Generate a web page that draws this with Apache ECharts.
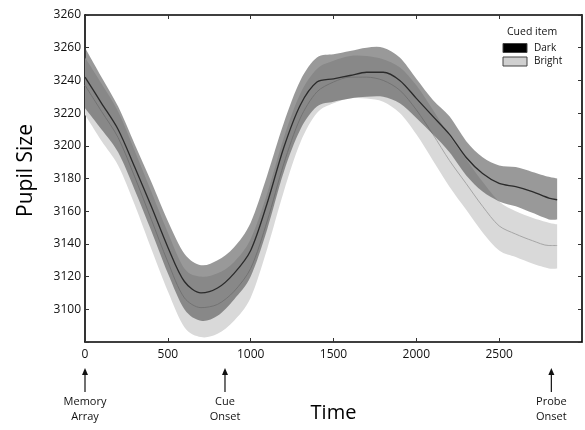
<!DOCTYPE html>
<html>
<head>
<meta charset="utf-8">
<script src="https://cdn.jsdelivr.net/npm/echarts@6/dist/echarts.min.js"></script>
<style>
  html, body { margin: 0; padding: 0; background: #fff; }
  #chart { width: 585px; height: 430px; }
</style>
</head>
<body>
<div id="chart"></div>
<script>
// time points (ms)
const times = [0, 100, 200, 300, 400, 500, 600, 700, 800, 900, 1000, 1100, 1200, 1300, 1400,
  1500, 1600, 1700, 1800, 1900, 2000, 2100, 2200, 2300, 2400, 2500, 2600, 2700, 2800, 2850];

// Dark cued item: mean and band
const darkMean = [3242, 3226, 3210, 3187, 3163, 3138, 3117, 3110, 3113, 3122, 3136, 3165, 3199, 3225, 3239,
  3241, 3243, 3245, 3245, 3240, 3229, 3218, 3207, 3193, 3183, 3177, 3175, 3172, 3168, 3167];
const darkUpper = [3260, 3242, 3224, 3201, 3178, 3154, 3134, 3127, 3130, 3138, 3153, 3182, 3214, 3240, 3254,
  3256, 3258, 3260, 3260, 3254, 3241, 3228, 3218, 3203, 3193, 3188, 3187, 3184, 3181, 3180];
const darkLower = [3223, 3210, 3196, 3173, 3148, 3122, 3100, 3093, 3096, 3106, 3120, 3149, 3184, 3210, 3224,
  3227, 3229, 3230, 3230, 3226, 3217, 3207, 3196, 3182, 3172, 3166, 3163, 3159, 3155, 3155];

// Bright cued item: mean and band
const brightMean = [3237, 3221, 3205, 3181, 3155, 3129, 3107, 3101, 3103, 3111, 3125, 3154, 3189, 3217, 3233,
  3239, 3242, 3242, 3240, 3234, 3222, 3207, 3191, 3177, 3163, 3151, 3146, 3142, 3139, 3139];
const brightUpper = [3254, 3238, 3221, 3197, 3172, 3147, 3125, 3120, 3122, 3129, 3143, 3171, 3205, 3232, 3247,
  3252, 3255, 3255, 3253, 3248, 3237, 3222, 3206, 3192, 3178, 3166, 3160, 3156, 3153, 3152];
const brightLower = [3219, 3203, 3188, 3164, 3137, 3111, 3089, 3083, 3085, 3093, 3107, 3137, 3172, 3202, 3220,
  3226, 3229, 3229, 3227, 3220, 3207, 3191, 3175, 3161, 3147, 3136, 3132, 3128, 3125, 3125];

// axis ticks
const yTicks = [3100, 3120, 3140, 3160, 3180, 3200, 3220, 3240, 3260, 3280];
const yTickLabels = ['3100', '3120', '3140', '3160', '3180', '3200', '3220', '3240', '3260', '3260'];
const xTicks = [0, 500, 1000, 1500, 2000, 2500];
const xTickLabels = ['0', '500', '1000', '1500', '2000', '2500'];

// event markers under the time axis
const markerTimes = [0, 845, 2815];
const markerLabels = ['Memory\nArray', 'Cue\nOnset', 'Probe\nOnset'];

const legendNames = ['Dark', 'Bright'];
const legendColors = ['#000000', '#d0d0d0'];

const FONT = 'Open Sans';

function pairs(ys) {
  return times.map((t, i) => [t, ys[i]]);
}

// smooth path through points (catmull-rom as cubic beziers)
function curveTo(pts, first) {
  let d = first ? 'M' + pts[0][0] + ',' + pts[0][1] : 'L' + pts[0][0] + ',' + pts[0][1];
  const k = 0.16;
  for (let i = 0; i < pts.length - 1; i++) {
    const p0 = pts[Math.max(i - 1, 0)], p1 = pts[i], p2 = pts[i + 1], p3 = pts[Math.min(i + 2, pts.length - 1)];
    const c1 = [p1[0] + (p2[0] - p0[0]) * k, p1[1] + (p2[1] - p0[1]) * k];
    const c2 = [p2[0] - (p3[0] - p1[0]) * k, p2[1] - (p3[1] - p1[1]) * k];
    d += 'C' + c1[0] + ',' + c1[1] + ',' + c2[0] + ',' + c2[1] + ',' + p2[0] + ',' + p2[1];
  }
  return d;
}

// shaded band between upper and lower, drawn through the axes
function band(name, upper, lower, color, z) {
  return {
    name: name, type: 'custom', z: z, silent: true,
    data: [[times[0], upper[0]]],
    renderItem: (params, api) => {
      const top = times.map((t, i) => api.coord([t, upper[i]]));
      const bottom = times.map((t, i) => api.coord([t, lower[i]])).reverse();
      return {
        type: 'path',
        shape: { pathData: curveTo(top, true) + curveTo(bottom, false) + 'Z' },
        style: { fill: color }
      };
    }
  };
}

const chart = echarts.init(document.getElementById('chart'));

const frameLine = { show: true, onZero: false, lineStyle: { color: '#000', width: 1.6 } };
const inTick = { inside: true, length: 4, lineStyle: { color: '#333' } };

chart.setOption({
  animation: false,
  textStyle: { fontFamily: FONT },
  grid: { left: 85, right: 2, top: 15, bottom: 88 },
  xAxis: [
    {
      type: 'value', min: 0, max: 3000, interval: 500,
      name: 'Time', nameLocation: 'middle', nameGap: 61,
      nameTextStyle: { fontSize: 20, color: '#000', fontFamily: FONT },
      axisLine: frameLine,
      axisTick: inTick,
      axisLabel: {
        fontSize: 12, color: '#111', margin: 7, fontFamily: FONT,
        formatter: v => { const i = xTicks.indexOf(v); return i < 0 ? '' : xTickLabels[i]; }
      },
      splitLine: { show: false }
    },
    {
      type: 'value', position: 'top', min: 0, max: 3000, interval: 500,
      axisLine: frameLine, axisTick: inTick,
      axisLabel: { show: false }, splitLine: { show: false }
    }
  ],
  yAxis: [
    {
      type: 'value', min: 3080, max: 3280, interval: 20,
      name: 'Pupil Size', nameLocation: 'middle', nameGap: 48,
      nameTextStyle: { fontSize: 21, color: '#000', fontFamily: FONT, padding: [0, 0, 0, 16] },
      axisLine: frameLine,
      axisTick: inTick,
      axisLabel: {
        fontSize: 12, color: '#111', margin: 4, fontFamily: FONT,
        formatter: v => { const i = yTicks.indexOf(v); return i < 0 ? '' : yTickLabels[i]; }
      },
      splitLine: { show: false }
    },
    {
      type: 'value', position: 'right', min: 3080, max: 3280, interval: 20,
      axisLine: frameLine, axisTick: inTick,
      axisLabel: { show: false }, splitLine: { show: false }
    }
  ],
  series: [
    band('bright-band', brightUpper, brightLower, '#d9d9d9', 1),
    {
      name: 'Bright', type: 'line', data: pairs(brightMean),
      symbol: 'none', smooth: 0.3, z: 2, silent: true,
      lineStyle: { color: '#a6a6a6', width: 1 }
    },
    band('dark-band', darkUpper, darkLower, 'rgba(74,74,74,0.56)', 3),
    {
      name: 'Dark', type: 'line', data: pairs(darkMean),
      symbol: 'none', smooth: 0.3, z: 4, silent: true,
      lineStyle: { color: '#2b2b2b', width: 1.3 }
    }
  ]
});

// legend box (top right) and event arrows under the time axis
const graphics = [
  {
    type: 'text', left: 507, top: 27,
    style: { text: 'Cued item', fontSize: 10.5, fontFamily: FONT, fill: '#111' }
  }
];
legendNames.forEach((name, i) => {
  graphics.push({
    type: 'rect', shape: { x: 503, y: 43.5 + i * 13.5, width: 24, height: 9 },
    style: { fill: legendColors[i], stroke: '#444', lineWidth: 1 }
  });
  graphics.push({
    type: 'text', x: 534, y: 48 + i * 13.5,
    style: { text: name, fontSize: 10, fontFamily: FONT, fill: '#111', verticalAlign: 'middle' }
  });
});
markerTimes.forEach((t, i) => {
  const px = chart.convertToPixel({ xAxisIndex: 0 }, t);
  graphics.push({
    type: 'line', shape: { x1: px, y1: 392, x2: px, y2: 373 },
    style: { stroke: '#111', lineWidth: 1.2 }
  });
  graphics.push({
    type: 'polygon', shape: { points: [[px, 368], [px - 3, 375], [px + 3, 375]] },
    style: { fill: '#111' }
  });
  graphics.push({
    type: 'text', x: px, y: 394,
    style: {
      text: markerLabels[i], fontSize: 11, fontFamily: FONT, fill: '#111',
      align: 'center', verticalAlign: 'top', lineHeight: 15
    }
  });
});
chart.setOption({ graphic: graphics });
</script>
</body>
</html>
